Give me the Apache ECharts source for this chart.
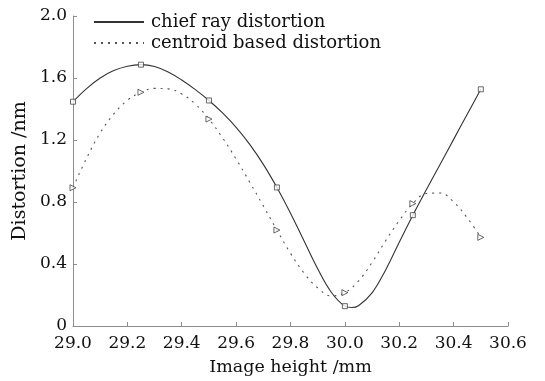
<!DOCTYPE html>
<html>
<head>
<meta charset="utf-8">
<script src="https://cdn.jsdelivr.net/npm/echarts@6/dist/echarts.min.js"></script>
<style>
html,body{margin:0;padding:0;background:#fff;}
#main{width:545px;height:381px;}
</style>
</head>
<body>
<div id="main"></div>
<script>
// Curve readings (x: image height /mm, y: distortion /nm)
const chiefCurveX = [29.00,29.05,29.10,29.15,29.20,29.25,29.30,29.35,29.40,29.45,29.50,29.55,29.60,29.65,29.70,29.75,29.80,29.85,29.90,29.95,30.00,30.025,30.05,30.10,30.15,30.20,30.25,30.30,30.35,30.40,30.45,30.50];
const chiefCurveY = [1.447,1.532,1.600,1.648,1.676,1.686,1.674,1.639,1.587,1.525,1.455,1.375,1.282,1.172,1.043,0.894,0.728,0.548,0.369,0.218,0.128,0.119,0.131,0.214,0.362,0.540,0.715,0.880,1.042,1.204,1.366,1.527];
const centroidCurveX = [29.00,29.05,29.10,29.15,29.20,29.25,29.30,29.35,29.40,29.45,29.50,29.55,29.60,29.65,29.70,29.75,29.80,29.85,29.90,29.95,30.00,30.05,30.10,30.15,30.20,30.25,30.30,30.35,30.40,30.45,30.50];
const centroidCurveY = [0.892,1.083,1.245,1.368,1.456,1.508,1.533,1.530,1.497,1.432,1.335,1.214,1.077,0.928,0.775,0.619,0.469,0.341,0.246,0.194,0.215,0.290,0.410,0.550,0.680,0.790,0.855,0.858,0.800,0.698,0.572];
// Sample (marker) points
const markerX = [29.00,29.25,29.50,29.75,30.00,30.25,30.50];
const chiefMarkerY = [1.447,1.686,1.455,0.894,0.128,0.715,1.527];
const centroidMarkerY = [0.892,1.508,1.335,0.619,0.215,0.790,0.572];
// Axis ticks
const xMin = 29.0, xMax = 30.6, xStep = 0.2;
const yMin = 0, yMax = 2.0, yStep = 0.4;
const seriesNames = ['chief ray distortion','centroid based distortion'];

const FONT = 'DejaVu Serif';
const zip = (xs, ys) => xs.map((x, i) => [x, ys[i]]);

const chart = echarts.init(document.getElementById('main'), null, {renderer: 'canvas'});
chart.setOption({
  backgroundColor: '#ffffff',
  animation: false,
  textStyle: {fontFamily: FONT},
  grid: {left: 73, right: 37, top: 16, bottom: 55},
  legend: {
    orient: 'vertical',
    left: 88, top: 8,
    itemWidth: 50, itemHeight: 12, itemGap: 3,
    data: seriesNames,
    itemStyle: {opacity: 0},
    textStyle: {fontFamily: FONT, fontSize: 18, color: '#111111', padding: [0,0,0,2]}
  },
  xAxis: {
    type: 'value', min: xMin, max: xMax, interval: xStep,
    name: 'Image height /mm', nameLocation: 'middle', nameGap: 32,
    nameTextStyle: {fontFamily: FONT, fontSize: 17.5, color: '#111111'},
    axisLine: {lineStyle: {color: '#8c8c8c', width: 1}},
    axisTick: {inside: true, length: 4, lineStyle: {color: '#8c8c8c'}},
    axisLabel: {fontFamily: FONT, fontSize: 17, color: '#111111', margin: 9,
      formatter: v => v.toFixed(1)},
    splitLine: {show: false}
  },
  yAxis: {
    type: 'value', min: yMin, max: yMax, interval: yStep,
    name: 'Distortion /nm', nameLocation: 'middle', nameGap: 41,
    nameTextStyle: {fontFamily: FONT, fontSize: 19, color: '#111111'},
    axisLine: {show: true, lineStyle: {color: '#8c8c8c', width: 1}},
    axisTick: {show: true, inside: true, length: 4, lineStyle: {color: '#8c8c8c'}},
    axisLabel: {fontFamily: FONT, fontSize: 17, color: '#111111', margin: 6,
      formatter: v => v === 0 ? '0' : v.toFixed(1)},
    splitLine: {show: false}
  },
  series: [
    {
      name: seriesNames[0], type: 'line', smooth: 0.4, symbol: 'none',
      data: zip(chiefCurveX, chiefCurveY),
      lineStyle: {color: '#333333', width: 1.1, type: 'solid'},
      itemStyle: {color: '#333333'}
    },
    {
      name: seriesNames[1], type: 'line', smooth: 0.4, symbol: 'none',
      data: zip(centroidCurveX, centroidCurveY),
      lineStyle: {color: '#555555', width: 1.1, type: [2, 5]},
      itemStyle: {color: '#555555'}
    },
    {
      name: 'chief markers', type: 'scatter', symbol: 'rect', symbolSize: 5,
      data: zip(markerX, chiefMarkerY),
      itemStyle: {color: '#ffffff', borderColor: '#444444', borderWidth: 1},
      z: 5
    },
    {
      name: 'centroid markers', type: 'scatter', symbol: 'triangle', symbolSize: 6, symbolRotate: -90,
      data: zip(markerX, centroidMarkerY),
      itemStyle: {color: '#ffffff', borderColor: '#444444', borderWidth: 1},
      z: 5
    }
  ]
});
</script>
</body>
</html>
